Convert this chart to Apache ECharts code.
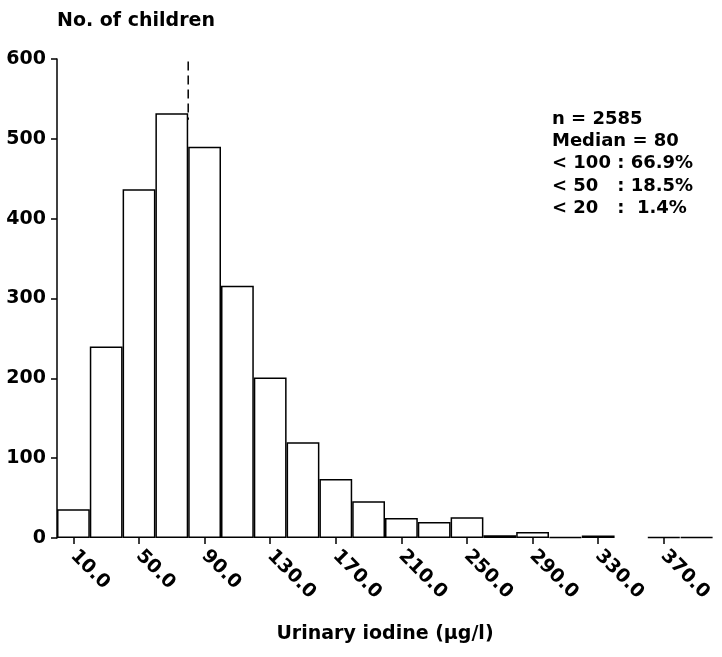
<!DOCTYPE html>
<html>
<head>
<meta charset="utf-8">
<script src="https://cdn.jsdelivr.net/npm/echarts@6/dist/echarts.min.js"></script>
<style>
  html, body { margin: 0; padding: 0; background: #fff; }
  #chart { width: 722px; height: 657px; }
</style>
</head>
<body>
<div id="chart"></div>
<script>
// bin centres (µg/l), 20-wide bins
const binCentres = ['10.0', '30.0', '50.0', '70.0', '90.0', '110.0', '130.0', '150.0', '170.0', '190.0',
                    '210.0', '230.0', '250.0', '270.0', '290.0', '310.0', '330.0', '350.0', '370.0', '390.0'];
// number of children per bin (350 bin is empty)
const childCounts = [36, 240, 437, 532, 490, 316, 201, 120, 74, 46,
                     25, 20, 26, 3.5, 7.5, 1, 3, '-', 1, 1];
// median marker (dashed line)
const medianLine = [[80, 597], [80, 524]];
const statLines = ['n = 2585', 'Median = 80', '< 100 : 66.9%', '< 50   : 18.5%', '< 20   :  1.4%'];

const font = 'DejaVu Sans';
const chart = echarts.init(document.getElementById('chart'));

chart.setOption({
    animation: false,
    backgroundColor: '#fff',
    title: {
        text: 'No. of children',
        left: 57,
        top: 12,
        padding: 0,
        textStyle: { fontFamily: font, fontWeight: 'bold', fontSize: 19, color: '#000' }
    },
    grid: { left: 57, right: 9, top: 59, bottom: 119 },
    xAxis: [{
        type: 'category',
        data: binCentres,
        boundaryGap: true,
        axisLine: { show: false },
        axisTick: { show: true, interval: 1, alignWithLabel: true, length: 6, lineStyle: { color: '#000', width: 1.5 } },
        axisLabel: {
            interval: 1, rotate: -45, margin: 15,
            fontFamily: font, fontWeight: 'bold', fontSize: 19, color: '#000'
        },
        name: 'Urinary iodine (µg/l)',
        nameLocation: 'middle',
        nameGap: 87,
        nameTextStyle: { fontFamily: font, fontWeight: 'bold', fontSize: 19, color: '#000' }
    }, {
        type: 'value',
        min: 0,
        max: 400,
        show: false
    }],
    yAxis: {
        type: 'value',
        min: 0,
        max: 600,
        interval: 100,
        splitLine: { show: false },
        axisLine: { show: true, lineStyle: { color: '#000', width: 1.5 } },
        axisTick: { show: true, length: 6, lineStyle: { color: '#000', width: 1.5 } },
        axisLabel: { margin: 11, fontFamily: font, fontWeight: 'bold', fontSize: 19, color: '#000' }
    },
    series: [{
        type: 'bar',
        data: childCounts,
        barWidth: '100%',
        barCategoryGap: '0%',
        itemStyle: { color: '#fff', borderColor: '#000', borderWidth: 1.5 }
    }, {
        type: 'line',
        xAxisIndex: 1,
        data: medianLine,
        symbol: 'none',
        lineStyle: { color: '#000', width: 1.5, type: [9, 5] }
    }],
    graphic: statLines.map((t, i) => ({
        type: 'text',
        left: 552,
        top: 110 + i * 22.3,
        style: { text: t, font: 'bold 18px "DejaVu Sans"', fill: '#000' }
    }))
});
</script>
</body>
</html>
